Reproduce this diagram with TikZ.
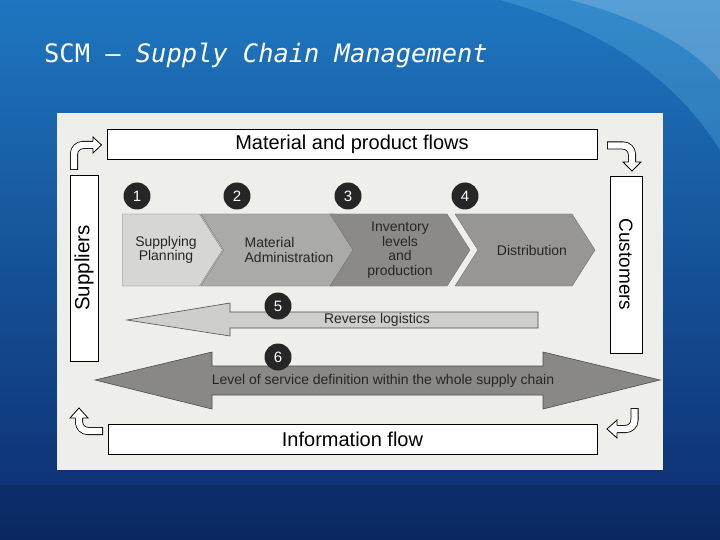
\documentclass[tikz,border=0pt]{standalone}
\usepackage{fontspec}
\setmainfont{Liberation Sans}
\newfontfamily\titlefont{DejaVu Sans Mono}
\usetikzlibrary{arrows.meta,positioning,shapes.symbols,calc}

\definecolor{slidetop}{RGB}{30,118,192}
\definecolor{slidemid}{RGB}{26,96,174}
\definecolor{slidebot}{RGB}{12,44,110}
\definecolor{scanbg}{RGB}{238,238,235}
\definecolor{chevA}{RGB}{214,214,212}
\definecolor{chevB}{RGB}{170,170,168}
\definecolor{chevC}{RGB}{140,138,136}
\definecolor{chevD}{RGB}{152,150,148}
\definecolor{revfill}{RGB}{206,206,204}
\definecolor{lvlfill}{RGB}{138,136,134}

\begin{document}
\begin{tikzpicture}[x=1pt, y=-1pt,
  flowbox/.style={draw, fill=white, line width=0.7pt, minimum height=30pt, inner sep=0pt, font=\fontsize{20}{22}\selectfont},
  sidebox/.style={draw, fill=white, line width=0.7pt, inner sep=0pt},
  num/.style={circle, fill=black!85, text=white, minimum size=27pt, inner sep=0pt, font=\fontsize{15}{16}\selectfont},
  chev/.style={draw=black!55, signal, signal to=east, signal pointer angle=115, minimum height=72pt, inner sep=1pt, align=center, text=black!85, font=\fontsize{14}{14.5}\selectfont, fill=#1},
  chev/.default=chevA,
  bigarrow/.style={draw=black!70, line width=0.6pt, fill=#1},
  arrowtext/.style={inner sep=1pt, text=black!85, font=\fontsize{14}{16}\selectfont},
  hollow/.style={white, line width=6.4pt, rounded corners=9pt, shorten <=0.9pt, preaction={draw=black, line width=8pt, shorten <=0pt}},
  headtri/.style={draw, fill=white, line width=0.8pt, line join=miter}]

% slide background
\shade[top color=slidetop, middle color=slidemid, bottom color=slidebot] (0,0) rectangle (720,540);
\useasboundingbox (0,0) rectangle (720,540);
\fill[cyan!50!white, opacity=0.22] (500,0) .. controls (590,25) and (670,70) .. (720,150) -- (720,0) -- cycle;
\fill[white, opacity=0.18] (570,0) .. controls (640,18) and (690,45) .. (720,80) -- (720,0) -- cycle;
\fill[black, opacity=0.1] (0,485) rectangle (720,540);

% title
\node[anchor=base west, inner sep=0pt, text=white, font=\titlefont\fontsize{25.4}{28}\selectfont] (title) at (44,63) {SCM – \textit{Supply Chain Management}};

% scanned figure
\node[fill=scanbg, minimum width=606pt, minimum height=357pt, inner sep=0pt] (panel) at (360,291.5) {};

\node[flowbox, minimum width=490pt] (mat) at (352,144) {Material and product flows};
\node[flowbox, minimum width=489pt] (info) at (352.5,439) {Information flow};
\node[sidebox, rotate=90, minimum width=186pt, minimum height=28pt, font=\fontsize{20.5}{22}\selectfont] (sup) at (84,268) {Suppliers};
\node[sidebox, rotate=-90, minimum width=177pt, minimum height=32pt, font=\fontsize{19}{21}\selectfont] (cus) at (626,264.5) {Customers};

% process chevrons
\node[chev=chevA, minimum width=100pt] (plan) at (161,250) {\hspace*{10pt}Supplying\\\hspace*{10pt}Planning};
\node[chev=chevB, signal from=west, minimum width=138pt, align=left] (adm) at (279,250) {\hspace*{20pt}Material\\\hspace*{20pt}Administration};
\node[chev=chevC, signal from=west, minimum width=140pt] (inv) at (400,250) {Inventory\\levels\\and\\production};
\node[chev=chevD, signal from=west, minimum width=140pt] (dis) at (525,250) {\hspace*{14pt}Distribution};

% reverse logistics and service level
\draw[bigarrow=revfill] (127,320) -- (230,303) -- (230,312) -- (538,312) -- (538,328) -- (230,328) -- (230,336) -- cycle;
\node[arrowtext] (rev) at (377,320) {Reverse logistics};
\draw[bigarrow=lvlfill] (95,380) -- (212,352) -- (212,366) -- (543,366) -- (543,352) -- (660,380) -- (543,409) -- (543,395) -- (212,395) -- (212,409) -- cycle;
\node[arrowtext] (lvl) at (383,381) {Level of service definition within the whole supply chain};

\node[num] (n1) at (137,196) {1};
\node[num] (n2) at (237,196) {2};
\node[num] (n3) at (348,196) {3};
\node[num] (n4) at (465,196) {4};
\node[num] (n5) at (278,306) {5};
\node[num] (n6) at (278,357) {6};

% bent arrows in the corners
\draw[hollow] (74,170) -- (74,145) -- (93,145);
\draw[headtri] (93,141.5) -- (93,137) -- (101.5,145) -- (93,153) -- (93,148.5);
\draw[hollow] (607,145.5) -- (632,145.5) -- (632,162);
\draw[headtri] (628.5,162) -- (623,162) -- (632,171) -- (641,162) -- (635.5,162);
\draw[hollow] (103,431) -- (79,431) -- (79,418);
\draw[headtri] (82.5,418) -- (88,418) -- (79,408) -- (70,418) -- (75.5,418);
\draw[hollow] (634.5,408) -- (634.5,429) -- (617,429);
\draw[headtri] (617,425.5) -- (617,420) -- (607,429) -- (617,438) -- (617,432.5);
\end{tikzpicture}
\end{document}
